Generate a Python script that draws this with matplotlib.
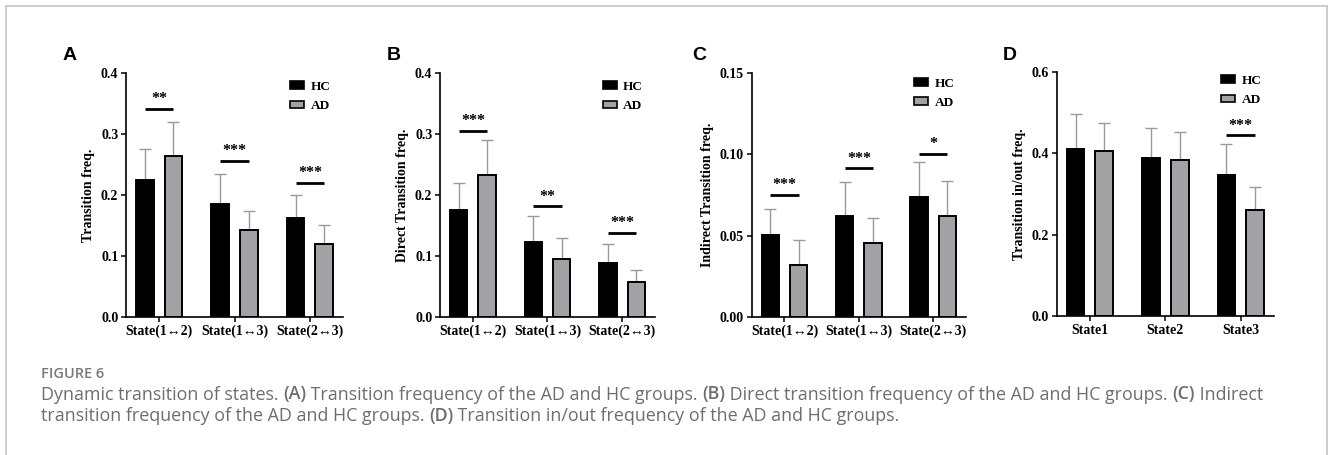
import matplotlib
matplotlib.use("Agg")
import matplotlib.pyplot as plt
from matplotlib.patches import Patch
from matplotlib.lines import Line2D
import numpy as np

# ---------------- data ----------------
pair_labels = ["State(1\u21942)", "State(1\u21943)", "State(2\u21943)"]
state_labels = ["State1", "State2", "State3"]
groups = ["HC", "AD"]

# Panel A: Transition freq.
a_hc = [0.225, 0.185, 0.162]
a_hc_sd = [0.050, 0.049, 0.038]
a_ad = [0.264, 0.142, 0.119]
a_ad_sd = [0.056, 0.032, 0.031]
a_sig_y = [0.341, 0.256, 0.220]
a_sig = ["**", "***", "***"]

# Panel B: Direct Transition freq.
b_hc = [0.175, 0.122, 0.088]
b_hc_sd = [0.044, 0.043, 0.031]
b_ad = [0.232, 0.095, 0.058]
b_ad_sd = [0.057, 0.034, 0.019]
b_sig_y = [0.305, 0.1815, 0.138]
b_sig = ["***", "**", "***"]

# Panel C: Indirect Transition freq.
c_hc = [0.0505, 0.0621, 0.0738]
c_hc_sd = [0.0157, 0.0205, 0.0214]
c_ad = [0.0317, 0.0454, 0.0621]
c_ad_sd = [0.0153, 0.0153, 0.0211]
c_sig_y = [0.0750, 0.0913, 0.1003]
c_sig = ["***", "***", "*"]

# Panel D: Transition in/out freq.
d_hc = [0.410, 0.387, 0.346]
d_hc_sd = [0.085, 0.074, 0.076]
d_ad = [0.405, 0.384, 0.261]
d_ad_sd = [0.070, 0.069, 0.057]
d_sig_y = [None, None, 0.444]
d_sig = [None, None, "***"]

# ---------------- style ----------------
SERIF = ["Liberation Serif", "DejaVu Serif"]
HC_COLOR = "black"
AD_COLOR = "#a2a2a6"
ERR_COLOR = "#9a9a9a"

fig = plt.figure(figsize=(13.3, 4.55), dpi=100)
W, H = 1330.0, 455.0


def px_axes(left, top, right, bottom):
    return fig.add_axes([left / W, 1 - bottom / H, (right - left) / W, (bottom - top) / H])


def panel(ax, cats, hc, hc_sd, ad, ad_sd, sig_y, sig, ylim, yticks, yfmt, ylabel, leg_top):
    x = np.arange(len(cats))
    off = 0.19
    w = 0.235
    ax.errorbar(x - off, hc, yerr=[np.zeros(len(hc)), hc_sd], fmt="none", ecolor=ERR_COLOR,
                elinewidth=1.0, capsize=4, capthick=1.0, zorder=1)
    ax.errorbar(x + off, ad, yerr=[np.zeros(len(ad)), ad_sd], fmt="none", ecolor=ERR_COLOR,
                elinewidth=1.0, capsize=4, capthick=1.0, zorder=1)
    ax.bar(x - off, hc, width=w, color=HC_COLOR, edgecolor="black", linewidth=1.4, zorder=2)
    ax.bar(x + off, ad, width=w, color=AD_COLOR, edgecolor="black", linewidth=1.4, zorder=2)
    for xi, yy, s in zip(x, sig_y, sig):
        if s is None:
            continue
        ax.plot([xi - off, xi + off], [yy, yy], color="black", lw=2.0, solid_capstyle="butt", zorder=3)
        ax.annotate(s, (xi, yy), xytext=(0, 1), textcoords="offset points", ha="center",
                    va="bottom", fontsize=11.5, fontweight="bold", family=SERIF, zorder=3)
    ax.set_xlim(-0.44, len(cats) - 1 + 0.44)
    ax.set_ylim(*ylim)
    ax.set_yticks(yticks)
    ax.set_yticklabels([yfmt.format(v) for v in yticks])
    ax.set_xticks(x)
    ax.set_xticklabels(cats)
    for lab in ax.get_xticklabels() + ax.get_yticklabels():
        lab.set_family(SERIF)
        lab.set_fontweight("bold")
        lab.set_fontsize(10)
    ax.tick_params(axis="both", direction="out", length=3.5, width=1.1, pad=2, colors="black")
    for s in ["top", "right"]:
        ax.spines[s].set_visible(False)
    for s in ["left", "bottom"]:
        ax.spines[s].set_linewidth(1.2)
    ax.set_ylabel(ylabel, family=SERIF, fontweight="bold", fontsize=10, labelpad=4)
    handles = [Patch(facecolor=HC_COLOR, edgecolor="black", linewidth=1.2, label=groups[0]),
               Patch(facecolor=AD_COLOR, edgecolor="black", linewidth=1.2, label=groups[1])]
    ax.legend(handles=handles, loc="upper left", bbox_to_anchor=(0.757, leg_top), frameon=False,
              prop={"family": SERIF, "weight": "bold", "size": 9.5}, handlelength=1.05,
              handleheight=0.5, handletextpad=0.5, labelspacing=0.55, borderpad=0, borderaxespad=0)


axA = px_axes(126, 72.7, 343, 317)
panel(axA, pair_labels, a_hc, a_hc_sd, a_ad, a_ad_sd, a_sig_y, a_sig, (0, 0.4),
      [0.0, 0.1, 0.2, 0.3, 0.4], "{:.1f}", "Transition freq.", 0.967)
axB = px_axes(440, 72.7, 655, 317)
panel(axB, pair_labels, b_hc, b_hc_sd, b_ad, b_ad_sd, b_sig_y, b_sig, (0, 0.4),
      [0.0, 0.1, 0.2, 0.3, 0.4], "{:.1f}", "Direct Transition freq.", 0.967)
axC = px_axes(751.7, 72.7, 966, 317)
panel(axC, pair_labels, c_hc, c_hc_sd, c_ad, c_ad_sd, c_sig_y, c_sig, (0, 0.15),
      [0.0, 0.05, 0.10, 0.15], "{:.2f}", "Indirect Transition freq.", 0.98)
axD = px_axes(1056.7, 71.7, 1274, 316)
panel(axD, state_labels, d_hc, d_hc_sd, d_ad, d_ad_sd, d_sig_y, d_sig, (0, 0.6),
      [0.0, 0.2, 0.4, 0.6], "{:.1f}", "Transition in/out freq.", 0.987)

# panel letters
for letter, xp in zip(["A", "B", "C", "D"], [63, 387, 692, 1003]):
    fig.text(xp / W, 1 - 55.5 / H, letter, ha="left", va="center", fontsize=14,
             fontweight="bold", family=["Liberation Sans", "DejaVu Sans"])

# border (open at bottom)
bc = "#c4c4c4"
fig.add_artist(Line2D([6 / W, 1327 / W], [1 - 6 / H, 1 - 6 / H], color=bc, lw=1.2, transform=fig.transFigure))
fig.add_artist(Line2D([6 / W, 6 / W], [0, 1 - 6 / H], color=bc, lw=1.2, transform=fig.transFigure))
fig.add_artist(Line2D([1327 / W, 1327 / W], [0, 1 - 6 / H], color=bc, lw=1.2, transform=fig.transFigure))

# caption
CAP_FONT = ["Open Sans", "DejaVu Sans"]
CAP_COLOR = "#6e6e6e"
fig.text(41 / W, 1 - 377.7 / H, "FIGURE 6", ha="left", va="baseline", fontsize=10.5,
         fontweight="semibold", color="#7a7a7a", family=CAP_FONT)

fig.canvas.draw()
renderer = fig.canvas.get_renderer()


def write_line(segments, x0, baseline):
    x = x0
    for txt, bold in segments:
        t = fig.text(x / W, 1 - baseline / H, txt, ha="left", va="baseline", fontsize=12.85,
                     fontweight="semibold" if bold else "normal", color=CAP_COLOR, family=CAP_FONT)
        bb = t.get_window_extent(renderer=renderer)
        x += bb.width


line1 = [("Dynamic transition of states. ", False), ("(A)", True),
         (" Transition frequency of the AD and HC groups. ", False), ("(B)", True),
         (" Direct transition frequency of the AD and HC groups. ", False), ("(C)", True),
         (" Indirect", False)]
line2 = [("transition frequency of the AD and HC groups. ", False), ("(D)", True),
         (" Transition in/out frequency of the AD and HC groups.", False)]
write_line(line1, 41, 399.5)
write_line(line2, 41, 421)

fig.savefig("out.png", dpi=100)
